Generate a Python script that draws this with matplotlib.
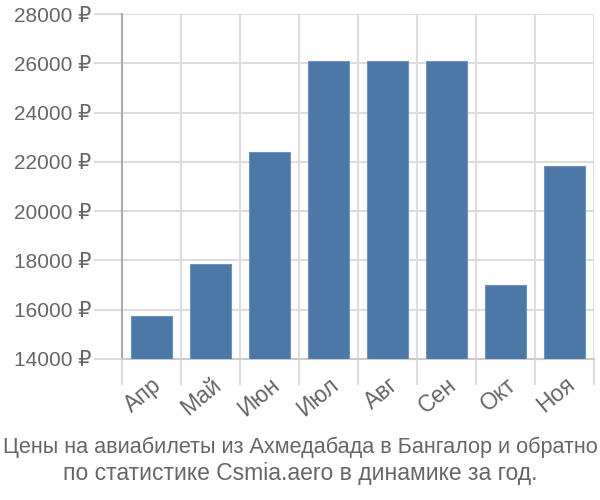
import matplotlib
matplotlib.use("Agg")
import matplotlib.pyplot as plt
import numpy as np

months = ["Апр", "Май", "Июн", "Июл", "Авг", "Сен", "Окт", "Ноя"]
prices = [15750, 17850, 22400, 26100, 26100, 26100, 17000, 21850]
yticks = [14000, 16000, 18000, 20000, 22000, 24000, 26000, 28000]
title_lines = ["Цены на авиабилеты из Ахмедабада в Бангалор и обратно",
               "по статистике Csmia.aero в динамике за год."]

plt.rcParams['font.family'] = ['Liberation Sans', 'DejaVu Sans']

fig = plt.figure(figsize=(6, 5), dpi=100)
ax = fig.add_axes([0.2033, 0.282, 0.7867, 0.69])

x = np.arange(len(months))
ax.bar(x, prices, width=0.7, color="#4c78a8", edgecolor="#6f93bd", linewidth=0.8, zorder=3)

ax.set_xlim(-0.5, len(months) - 0.5)
ax.set_ylim(14000, 28000)
ax.set_yticks(yticks)
ax.set_yticklabels([f"{v} ₽" for v in yticks])
ax.set_xticks(x)
ax.set_xticklabels(months, rotation=40, ha="right", rotation_mode="anchor")
ax.set_xticks(np.arange(len(months) + 1) - 0.5, minor=True)

ax.tick_params(axis="x", which="major", length=0, pad=10, labelsize=16.5, labelcolor="#666666")
ax.tick_params(axis="x", which="minor", length=19, width=1.5, color="#dddddd")
ax.tick_params(axis="y", length=20, width=1.5, color="#dddddd", labelsize=15, labelcolor="#666666", pad=2)

ax.grid(True, axis="y", color="#dddddd", linewidth=1.5, zorder=0)
ax.grid(True, axis="x", which="minor", color="#dddddd", linewidth=1.5, zorder=0)
ax.grid(False, axis="x", which="major")

for s in ["top", "right"]:
    ax.spines[s].set_visible(False)
ax.spines["left"].set_color("#aaaaaa")
ax.spines["left"].set_linewidth(1.5)
ax.spines["bottom"].set_color("#cccccc")
ax.spines["bottom"].set_linewidth(1.5)

fig.text(0.5, 0.105, title_lines[0], ha="center", va="center", fontsize=15.6, color="#666666")
fig.text(0.5, 0.053, title_lines[1], ha="center", va="center", fontsize=16.5, color="#666666")

fig.savefig("out.png", dpi=100)
